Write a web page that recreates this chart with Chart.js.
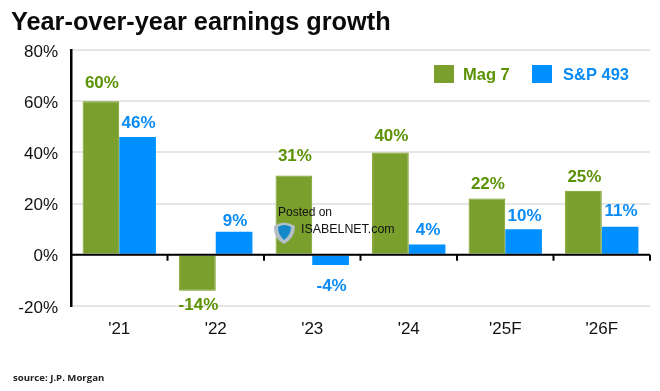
<!DOCTYPE html>
<html>
<head>
<meta charset="utf-8">
<title>Year-over-year earnings growth</title>
<script src="https://cdn.jsdelivr.net/npm/chart.js@4"></script>
<style>
    html, body { margin: 0; padding: 0; background: #fff; }
    #box { position: relative; width: 660px; height: 391px; }
</style>
</head>
<body>
<div id="box"><canvas id="grafico"></canvas></div>
<script>
const categories = ["'21", "'22", "'23", "'24", "'25F", "'26F"];
const seriesNames = ['Mag 7', 'S&P 493'];
const mag7 = [60, -14, 31, 40, 22, 25];
const sp493 = [46, 9, -4, 4, 10, 11];
const yTicks = [80, 60, 40, 20, 0, -20];

const greenBar = '#7a9f2d';
const greenText = '#5c9206';
const blueBar = '#0090ff';
const blueText = '#0a8bf5';
const sansFamily = '"Liberation Sans", Arial, sans-serif';
const axisFont = { family: sansFamily, size: 17 };

// Separacion de cada etiqueta respecto a su barra, como en la imagen
const labelGaps = [
    [18, 15, 19, 16, 14, 13],
    [14, 10, 21, 14, 13, 15]
];

// Etiquetas de valor encima o debajo de cada barra
const valueLabels = {
    id: 'valueLabels',
    afterDatasetsDraw(chart) {
        const ctx = chart.ctx;
        ctx.save();
        ctx.font = 'bold 17px ' + sansFamily;
        ctx.textAlign = 'center';
        ctx.textBaseline = 'middle';
        chart.data.datasets.forEach((dataset, d) => {
            ctx.fillStyle = d === 0 ? greenText : blueText;
            chart.getDatasetMeta(d).data.forEach((bar, i) => {
                const value = dataset.data[i];
                const gap = labelGaps[d][i];
                const y = value < 0 ? bar.y + gap : bar.y - gap;
                ctx.fillText(value + '%', bar.x + 1, y);
            });
        });
        ctx.restore();
    }
};

// Linea del cero con sus marcas, por encima de las barras
const zeroLine = {
    id: 'zeroLine',
    afterDatasetsDraw(chart) {
        const ctx = chart.ctx;
        const area = chart.chartArea;
        const y0 = chart.scales.y.getPixelForValue(0);
        const step = area.width / categories.length;
        ctx.save();
        ctx.strokeStyle = '#000';
        ctx.lineWidth = 2;
        ctx.beginPath();
        ctx.moveTo(area.left, y0);
        ctx.lineTo(area.right, y0);
        for (let i = 1; i <= categories.length; i++) {
            ctx.moveTo(area.left + step * i, y0);
            ctx.lineTo(area.left + step * i, y0 + 6);
        }
        ctx.stroke();
        ctx.restore();
    }
};

// Leyenda, fuente y marca de agua
const extras = {
    id: 'extras',
    afterDraw(chart) {
        const ctx = chart.ctx;
        ctx.save();
        ctx.textBaseline = 'middle';

        ctx.fillStyle = greenBar;
        ctx.fillRect(434, 65, 20, 18);
        ctx.fillStyle = blueBar;
        ctx.fillRect(532, 65, 20, 18);
        ctx.font = 'bold 16.5px ' + sansFamily;
        ctx.fillStyle = greenText;
        ctx.fillText(seriesNames[0], 463, 75);
        ctx.fillStyle = blueText;
        ctx.fillText(seriesNames[1], 563, 75);

        ctx.fillStyle = '#222';
        ctx.font = 'bold 9.6px "Open Sans", sans-serif';
        ctx.fillText('source: J.P. Morgan', 13, 378);

        ctx.fillStyle = '#111';
        ctx.font = '12px ' + sansFamily;
        ctx.fillText('Posted on', 278, 213);
        ctx.font = '12.4px ' + sansFamily;
        ctx.fillText('ISABELNET.com', 301, 230);

        // Escudo del logo
        ctx.beginPath();
        ctx.moveTo(274, 226);
        ctx.quadraticCurveTo(284, 219, 295, 226);
        ctx.quadraticCurveTo(295, 238, 284, 244);
        ctx.quadraticCurveTo(273, 238, 274, 226);
        ctx.fillStyle = '#b4bec6';
        ctx.fill();
        ctx.beginPath();
        ctx.moveTo(278, 227);
        ctx.quadraticCurveTo(284, 223, 291, 227);
        ctx.quadraticCurveTo(291, 235, 284, 240);
        ctx.quadraticCurveTo(278, 235, 278, 227);
        ctx.fillStyle = '#1488c8';
        ctx.fill();
        ctx.restore();
    }
};

new Chart(document.getElementById('grafico'), {
    type: 'bar',
    data: {
        labels: categories,
        datasets: [
            { label: seriesNames[0], data: mag7, backgroundColor: greenBar, borderColor: '#759c1a', borderWidth: 1 },
            { label: seriesNames[1], data: sp493, backgroundColor: blueBar, borderColor: blueBar, borderWidth: 0 }
        ]
    },
    plugins: [valueLabels, zeroLine, extras],
    options: {
        responsive: true,
        maintainAspectRatio: false,
        animation: false,
        layout: { padding: { left: 11, right: 10, top: 0, bottom: 0 } },
        datasets: { bar: { barPercentage: 1, categoryPercentage: 0.76 } },
        scales: {
            x: {
                grid: { display: false, drawTicks: false },
                border: { display: false },
                ticks: { color: '#111', font: axisFont, padding: 13, maxRotation: 0 },
                afterFit(scale) { scale.height = 85; }
            },
            y: {
                min: -20,
                max: 80,
                afterBuildTicks(scale) { scale.ticks = yTicks.map(v => ({ value: v })); },
                grid: { color: '#e6e6e6', lineWidth: 2, drawTicks: false },
                border: { color: '#000', width: 2.5 },
                ticks: { color: '#111', font: axisFont, padding: 13, labelOffset: 2, callback: v => v + '%' },
                afterFit(scale) { scale.width = 60; }
            }
        },
        plugins: {
            tooltip: { enabled: false },
            legend: { display: false },
            title: {
                display: true,
                text: 'Year-over-year earnings growth',
                align: 'start',
                color: '#0a0a0a',
                font: { family: sansFamily, size: 25.3, weight: 'bold' },
                padding: { top: 8, bottom: 11.6 }
            }
        }
    }
});
</script>
</body>
</html>
